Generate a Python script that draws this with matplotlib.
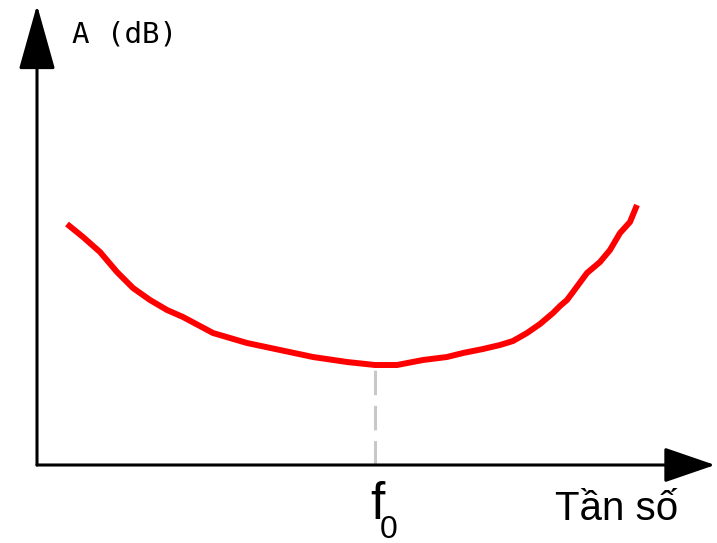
import matplotlib
matplotlib.use('Agg')
import matplotlib.pyplot as plt

# curve (frequency units, amplitude units; origin at the axes corner)
freq = [30, 46, 63, 80, 96, 113, 130, 146, 176, 210, 243, 276, 310, 338, 360,
        386, 410, 426, 446, 463, 476, 490, 503, 516, 523, 530, 536, 550, 563,
        573, 583, 593, 600]
amp = [241, 228, 213, 193, 177, 165, 155, 148, 132, 122, 115, 108, 103, 100, 100,
       105, 108, 112, 116, 120, 124, 132, 141, 152, 159, 165, 173, 192, 203,
       215, 232, 243, 260]
f0 = 338
amp_f0 = 100
x_end = 678
y_end = 460

fig = plt.figure(figsize=(7.17, 5.43), dpi=100)
ax = fig.add_axes([0, 0, 1, 1])
ax.set_xlim(-37, 680)
ax.set_ylim(-78, 465)
ax.axis('off')

# axes with arrow heads
ax.annotate('', xy=(x_end, 0), xytext=(0, 0),
            arrowprops=dict(arrowstyle='-|>,head_length=3.2,head_width=1.1',
                            mutation_scale=10, lw=2.2, color='k',
                            shrinkA=0, shrinkB=0))
ax.annotate('', xy=(0, y_end), xytext=(0, 0),
            arrowprops=dict(arrowstyle='-|>,head_length=4.1,head_width=1.15',
                            mutation_scale=10, lw=2.2, color='k',
                            shrinkA=0, shrinkB=0))

# dashed marker at f0
ax.plot([f0, f0], [0, amp_f0], color='#c8c8c8', lw=2.2, dashes=(8, 3.5), zorder=1)

# response curve
ax.plot(freq, amp, color='#ff0000', lw=4.3, solid_capstyle='butt', zorder=2)

fam = ['Liberation Sans', 'DejaVu Sans']
ax.text(35, 430, 'A (dB)', family='DejaVu Sans Mono', fontsize=21,
        ha='left', va='center')
ax.text(f0 + 2, -16, 'f', family=fam, fontsize=37, ha='center', va='top')
ax.text(f0 + 14, -50, '0', family=fam, fontsize=23, ha='center', va='top')
ax.text(518, -55, 'Tần số', family=fam, fontsize=29, ha='left', va='baseline')

fig.savefig('out.png', dpi=100)
